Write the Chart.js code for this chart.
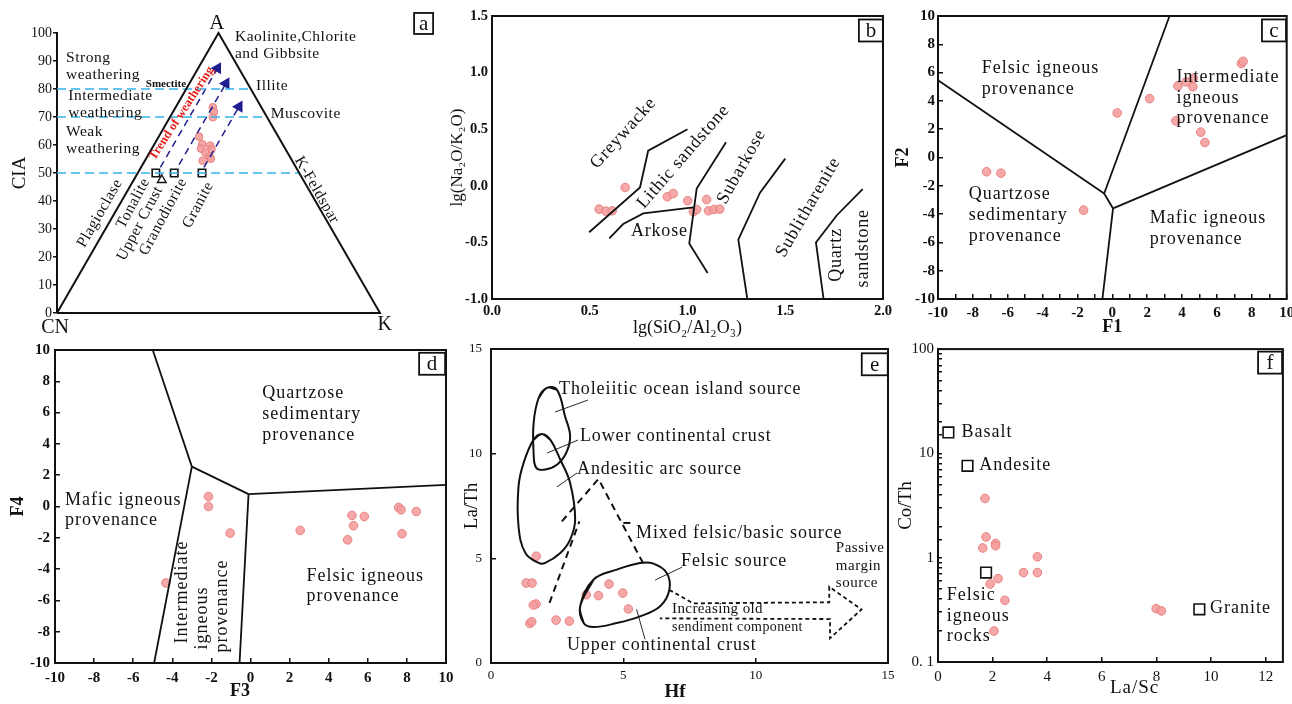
<!DOCTYPE html>
<html>
<head>
<meta charset="utf-8">
<script src="https://cdn.jsdelivr.net/npm/chart.js"></script>
<style>
body { margin: 0; background: #fff; }
#page { position: relative; width: 1292px; height: 704px; overflow: hidden; }
canvas { position: absolute; }
</style>
</head>
<body>
<div id="page">
  <canvas id="chartA"></canvas>
  <canvas id="chartB"></canvas>
  <canvas id="chartC"></canvas>
  <canvas id="chartD"></canvas>
  <canvas id="chartE"></canvas>
  <canvas id="chartF"></canvas>
</div>
<script>
// ---- a: A-CN-K ternary (A and K in %, CN = 100 - A - K)
const aSampleA = [73.5, 71.8, 69.9, 63.0, 60.3, 58.7, 59.8, 58.5, 57.3, 55.9, 54.4, 55.1];
const aSampleK = [11.5, 12.7, 13.3, 12.5, 14.8, 15.2, 17.5, 18.6, 17.3, 19.3, 17.9, 20.1];
const aRockA = [50, 50, 50];          // Tonalite, Granodiorite, Granite
const aRockK = [5.6, 11.3, 19.9];
const aCrustA = [47.5];               // Upper Crust
const aCrustK = [8.7];
const ciaLevels = [50, 70, 80];
const trendK = [6.0, 11.3, 19.5];
const trendStartA = [52, 53, 52];
const trendEndA = [87.4, 82.0, 73.7];
const ciaTicks = [0, 10, 20, 30, 40, 50, 60, 70, 80, 90, 100];

// ---- b: lg(SiO2/Al2O3) vs lg(Na2O/K2O)
const bSampleX = [0.548, 0.582, 0.615, 0.681, 0.897, 0.927, 1.001, 1.03, 1.047, 1.098, 1.107, 1.136, 1.165];
const bSampleY = [-0.206, -0.224, -0.221, -0.015, -0.097, -0.068, -0.132, -0.229, -0.209, -0.121, -0.221, -0.209, -0.206];
const bFieldX = [[0.497, 0.757, 0.799, 1.0], [0.6, 0.671, 0.774, 1.03], [1.197, 1.047, 1.009, 1.103], [1.5, 1.371, 1.26, 1.306], [1.896, 1.764, 1.657, 1.696]];
const bFieldY = [[-0.41, -0.015, 0.31, 0.5], [-0.465, -0.338, -0.244, -0.19], [0.385, -0.024, -0.51, -0.77], [0.24, -0.06, -0.475, -1.0], [-0.03, -0.26, -0.5, -1.0]];

// ---- c: F1 vs F2
const cSampleX = [-7.21, -6.39, -1.65, 0.28, 2.14, 3.76, 4.23, 4.62, 4.64, 3.64, 5.07, 5.31, 7.40, 7.50];
const cSampleY = [-1.01, -1.11, -3.72, 3.15, 4.16, 5.05, 5.34, 5.0, 5.6, 2.59, 1.79, 1.06, 6.64, 6.8];
const cFieldX = [[-10, -0.47], [-0.47, 3.28], [-0.47, 0.04], [0.04, 10], [0.04, -0.57]];
const cFieldY = [[5.46, -2.54], [-2.54, 10], [-2.54, -3.6], [-3.6, 1.58], [-3.6, -10]];

// ---- d: F3 vs F4
const dSampleX = [-2.15, -2.15, -1.04, -4.33, 2.54, 5.19, 5.82, 5.27, 4.97, 7.58, 7.70, 7.75, 8.48];
const dSampleY = [0.64, 0.0, -1.70, -4.89, -1.53, -0.57, -0.64, -1.23, -2.13, -0.06, -0.21, -1.74, -0.32];
const dFieldX = [[-5.0, -3.0], [-3.0, -4.93], [-3.0, -0.1], [-0.1, -0.56], [-0.1, 10]];
const dFieldY = [[10, 2.55], [2.55, -10], [2.55, 0.79], [0.79, -10], [0.79, 1.38]];

// ---- e: Hf vs La/Th
const eSampleX = [1.71, 1.33, 1.55, 1.70, 1.60, 1.47, 1.54, 2.46, 2.96, 3.60, 4.06, 4.46, 4.98, 5.19];
const eSampleY = [5.10, 3.82, 3.82, 2.82, 2.77, 1.89, 1.97, 2.05, 2.00, 3.26, 3.22, 3.77, 3.34, 2.58];
const eOceanX = [2.11, 2.49, 2.80, 2.99, 2.84, 2.49, 2.05, 1.71, 1.61, 1.61, 1.80];
const eOceanY = [13.14, 13.06, 11.78, 10.83, 10.03, 9.47, 9.24, 9.32, 10.03, 11.46, 12.66];
const eArcX = [1.92, 2.24, 2.62, 2.99, 3.18, 2.99, 2.62, 2.05, 1.80, 1.30, 1.04, 1.04, 1.23, 1.61];
const eArcY = [10.94, 10.67, 9.71, 8.60, 6.85, 5.89, 5.25, 4.78, 4.78, 5.25, 6.53, 8.44, 9.55, 10.67];
const eFelsicX = [3.37, 3.87, 4.75, 5.63, 6.14, 6.64, 6.74, 6.39, 5.63, 4.75, 3.87, 3.50];
const eFelsicY = [2.71, 3.98, 4.46, 4.78, 4.75, 4.30, 3.50, 2.71, 2.23, 1.91, 1.72, 1.91];
const eMixX = [[2.21, 3.34], [2.68, 4.06, 5.73], [5.0, 5.38]];
const eMixY = [[2.87, 6.77], [6.77, 8.79, 4.81], [6.69, 6.69]];
const eArrowX = [6.74, 7.64, 12.78, 12.78, 14.0, 12.81, 12.81, 6.38];
const eArrowY = [3.49, 2.85, 2.90, 3.64, 2.56, 1.18, 2.10, 2.13];
const eLeaderX = [[3.66, 2.42], [3.29, 2.12], [3.25, 2.49], [7.22, 6.20], [5.50, 5.82]];
const eLeaderY = [[12.56, 11.99], [10.65, 10.03], [9.08, 8.41], [4.58, 3.96], [2.56, 1.13]];

// ---- f: La/Sc vs Co/Th (log)
const fSampleX = [1.72, 1.76, 1.64, 2.11, 2.11, 3.64, 3.13, 3.64, 2.20, 1.91, 2.45, 2.05, 7.99, 8.18];
const fSampleY = [3.70, 1.58, 1.24, 1.37, 1.30, 1.02, 0.72, 0.72, 0.63, 0.56, 0.39, 0.198, 0.325, 0.309];
const fRockX = [0.38, 1.08, 1.76, 9.57];   // Basalt, Andesite, Felsic igneous rocks, Granite
const fRockY = [15.9, 7.6, 0.72, 0.32];

const SERIF = "'Liberation Serif', 'Times New Roman', serif";
Chart.defaults.font.family = SERIF;
Chart.defaults.color = '#111';
Chart.defaults.animation = false;

function pts(xs, ys) {
    return xs.map((v, i) => ({x: v, y: ys[i]}));
}

function lineDs(xs, ys, extra) {
    return Object.assign({
        data: pts(xs, ys), showLine: true, pointRadius: 0, borderColor: '#111',
        borderWidth: 1.8, fill: false, clip: false, tension: 0
    }, extra || {});
}

function sampleDs(xs, ys, r) {
    return {
        data: pts(xs, ys), showLine: false, pointRadius: r || 4.3,
        backgroundColor: 'rgba(244,158,158,0.9)', borderColor: '#e98080', borderWidth: 1
    };
}

function rockDs(xs, ys, r) {
    return {
        data: pts(xs, ys), showLine: false, pointStyle: 'rect', pointRadius: r,
        backgroundColor: '#fff', borderColor: '#111', borderWidth: 1.6, clip: false
    };
}

function loop(xs, ys) {
    // closed smooth outline: wrap points so the join is also smoothed
    const n = xs.length;
    return [[xs[n - 1], ...xs, xs[0], xs[1]], [ys[n - 1], ...ys, ys[0], ys[1]]];
}

// text labels, the corner letter box and the frame
const notesPlugin = {
    id: 'notes',
    afterDraw(chart, args, opts) {
        const {ctx, chartArea} = chart;
        const x = chart.scales.x, y = chart.scales.y;
        if (opts.frame) {
            ctx.save();
            ctx.strokeStyle = '#111';
            ctx.lineWidth = 2;
            ctx.strokeRect(chartArea.left, chartArea.top, chartArea.right - chartArea.left, chartArea.bottom - chartArea.top);
            ctx.restore();
        }
        (opts.items || []).forEach(n => {
            ctx.save();
            ctx.translate(x.getPixelForValue(n.x), y.getPixelForValue(n.y));
            if (n.rot) ctx.rotate(n.rot * Math.PI / 180);
            ctx.font = (n.bold ? 'bold ' : '') + (n.size || opts.size || 18) + 'px ' + SERIF;
            ctx.letterSpacing = (n.ls != null ? n.ls : (opts.ls != null ? opts.ls : 0.8)) + 'px';
            ctx.fillStyle = n.color || '#111';
            ctx.textAlign = n.align || 'left';
            ctx.textBaseline = 'middle';
            ctx.fillText(n.t, 0, 0);
            ctx.restore();
        });
        if (opts.tag) {
            const t = opts.tag;
            const cx = x.getPixelForValue(t.x), cy = y.getPixelForValue(t.y);
            ctx.save();
            ctx.fillStyle = '#fff';
            ctx.fillRect(cx - t.w / 2, cy - t.h / 2, t.w, t.h);
            ctx.strokeStyle = '#111';
            ctx.lineWidth = 1.8;
            ctx.strokeRect(cx - t.w / 2, cy - t.h / 2, t.w, t.h);
            ctx.fillStyle = '#111';
            ctx.font = '21px ' + SERIF;
            ctx.textAlign = 'center';
            ctx.textBaseline = 'middle';
            ctx.fillText(t.t, cx, cy + 1);
            ctx.restore();
        }
    }
};
Chart.register(notesPlugin);

// place a canvas so that the plot area lands on area {l,t,r,b}; pad = room around it
function makeChart(id, area, pad, datasets, scales, notes) {
    const cv = document.getElementById(id);
    cv.width = area.r - area.l + pad.l + pad.r;
    cv.height = area.b - area.t + pad.t + pad.b;
    cv.style.left = (area.l - pad.l) + 'px';
    cv.style.top = (area.t - pad.t) + 'px';
    scales.y.afterFit = s => { s.width = pad.l; s.paddingTop = 0; s.paddingBottom = 0; };
    if (scales.x.display !== false) {
        scales.x.afterFit = s => { s.height = pad.b; s.paddingLeft = 0; s.paddingRight = 0; };
    }
    return new Chart(cv, {
        type: 'scatter',
        data: {datasets: datasets},
        options: {
            responsive: false,
            layout: {padding: {left: 0, top: pad.t, right: pad.r, bottom: scales.x.display === false ? pad.b : 0}},
            plugins: {legend: {display: false}, tooltip: {enabled: false}, notes: notes},
            scales: scales
        }
    });
}

function axis(min, max, step, opts) {
    const o = opts || {};
    return {
        type: o.type || 'linear', min: min, max: max,
        border: {display: !!o.border, color: '#111', width: 2},
        grid: {drawOnChartArea: false, drawTicks: o.tick !== 0, tickLength: o.tick || -5, color: '#111', lineWidth: 1.5},
        ticks: {
            stepSize: step, autoSkip: false, includeBounds: false, padding: o.pad,
            maxRotation: 0, minRotation: 0,
            color: '#111', font: {size: o.size || 15, weight: o.bold ? 'bold' : 'normal'},
            callback: o.fmt || (v => v)
        },
        title: {display: !!o.title, text: o.title, color: '#111',
            font: {size: o.tsize || 18, weight: o.tbold ? 'bold' : 'normal'},
            padding: {top: o.tpad || 0, bottom: o.tpad || 0}}
    };
}

// ---------- a
const ternX = (A, K) => K.map((k, i) => k + A[i] / 2);
const aDatasets = [
    lineDs([0, 50, 100, 0], [0, 100, 0, 0], {borderWidth: 2})
];
ciaLevels.forEach(c => aDatasets.push(lineDs([0, 100 - c / 2], [c, c], {borderColor: '#34b3e8', borderWidth: 1.6, borderDash: [9, 5]})));
trendK.forEach((k, i) => aDatasets.push(lineDs(
    ternX([trendStartA[i], trendEndA[i]], [k, k]), [trendStartA[i], trendEndA[i]],
    {borderColor: '#1f1f8f', borderWidth: 1.5, borderDash: [7, 5],
     pointRadius: c => c.dataIndex === 1 ? 5.5 : 0, pointStyle: 'triangle', rotation: 30,
     pointBackgroundColor: '#1f1f8f', pointBorderColor: '#1f1f8f'})));
aDatasets.push(sampleDs(ternX(aSampleA, aSampleK), aSampleA, 3.8));
aDatasets.push(rockDs(ternX(aRockA, aRockK), aRockA, 5.2));
aDatasets.push({data: pts(ternX(aCrustA, aCrustK), aCrustA), showLine: false, pointStyle: 'triangle', pointRadius: 5,
    backgroundColor: '#fff', borderColor: '#111', borderWidth: 1.4});

const aY = axis(0, 100, 10, {border: true, tick: 4, pad: 1, size: 14, title: 'CIA', tsize: 19, tpad: 9});
aY.ticks.callback = v => ciaTicks.includes(v) ? v : '';
makeChart('chartA', {l: 57, t: 33, r: 380, b: 313}, {l: 57, t: 31, r: 60, b: 30}, aDatasets,
    {x: {type: 'linear', min: 0, max: 100, display: false}, y: aY},
    {size: 15.5, ls: 0.5, items: [
        {t: 'A', x: 49.5, y: 103.4, size: 21, align: 'center', ls: 0},
        {t: 'CN', x: -0.6, y: -5.4, size: 20, align: 'center', ls: 0},
        {t: 'K', x: 101.5, y: -4.3, size: 20, align: 'center', ls: 0},
        {t: 'Kaolinite,Chlorite', x: 55.1, y: 98.7},
        {t: 'and Gibbsite', x: 55.1, y: 92.7},
        {t: 'Illite', x: 61.6, y: 81.2},
        {t: 'Muscovite', x: 66.2, y: 71.0},
        {t: 'Strong', x: 2.8, y: 91.0},
        {t: 'weathering', x: 2.8, y: 85.0},
        {t: 'Smectite', x: 27.5, y: 81.9, size: 11, bold: true, ls: 0},
        {t: 'Intermediate', x: 3.5, y: 77.5},
        {t: 'weathering', x: 3.5, y: 71.5},
        {t: 'Weak', x: 2.8, y: 64.8},
        {t: 'weathering', x: 2.8, y: 58.6},
        {t: 'Trend of weathering', x: 38.6, y: 71.3, rot: -57, size: 12.5, bold: true, color: '#e3201b', align: 'center', ls: 0},
        {t: 'Plagioclase', x: 13.3, y: 35.6, rot: -60, align: 'center'},
        {t: 'Tonalite', x: 23.6, y: 39.2, rot: -62, align: 'center'},
        {t: 'Upper Crust', x: 25.7, y: 32.0, rot: -62, align: 'center'},
        {t: 'Granodiorite', x: 32.9, y: 34.4, rot: -62, align: 'center'},
        {t: 'Granite', x: 43.7, y: 38.6, rot: -62, align: 'center'},
        {t: 'K-Feldspar', x: 80.4, y: 43.9, rot: 60, align: 'center'}
    ], tag: {t: 'a', x: 113.5, y: 103.4, w: 19, h: 21}});

// ---------- b
const bDatasets = bFieldX.map((xs, i) => lineDs(xs, bFieldY[i]));
bDatasets.push(sampleDs(bSampleX, bSampleY));
makeChart('chartB', {l: 492, t: 16, r: 883, b: 299}, {l: 58, t: 12, r: 12, b: 45}, bDatasets, {
    x: axis(0, 2, 0.5, {tick: 0, pad: 4, size: 14.5, bold: true, fmt: v => v.toFixed(1), title: 'lg(SiO₂/Al₂O₃)', tsize: 18, tpad: 5}),
    y: axis(-1, 1.5, 0.5, {tick: 0, pad: 4, size: 14.5, bold: true, fmt: v => v.toFixed(1), title: 'lg(Na₂O/K₂O)', tsize: 17, tpad: 13})
}, {frame: true, size: 18, ls: 0.8, items: [
    {t: 'Greywacke', x: 0.672, y: 0.464, rot: -48, align: 'center'},
    {t: 'Lithic sandstone', x: 0.979, y: 0.257, rot: -49, align: 'center'},
    {t: 'Subarkose', x: 1.277, y: 0.169, rot: -61, align: 'center'},
    {t: 'Arkose', x: 0.856, y: -0.405, align: 'center'},
    {t: 'Sublitharenite', x: 1.618, y: -0.19, rot: -60, align: 'center'},
    {t: 'Quartz', x: 1.763, y: -0.611, rot: -90, align: 'center'},
    {t: 'sandstone', x: 1.899, y: -0.552, rot: -90, align: 'center'}
], tag: {t: 'b', x: 1.938, y: 1.372, w: 24, h: 22}});

// ---------- c
const cDatasets = cFieldX.map((xs, i) => lineDs(xs, cFieldY[i]));
cDatasets.push(sampleDs(cSampleX, cSampleY));
makeChart('chartC', {l: 938, t: 16, r: 1289, b: 299}, {l: 50, t: 12, r: 3, b: 45}, cDatasets, {
    x: axis(-10, 10, 1, {pad: 10, bold: true, fmt: v => v % 2 === 0 ? v : '', title: 'F1', tbold: true, tpad: 6}),
    y: axis(-10, 10, 2, {pad: 8, bold: true, title: 'F2', tbold: true, tpad: 5})
}, {frame: true, size: 18, ls: 1, items: [
    {t: 'Felsic igneous', x: -7.49, y: 6.33},
    {t: 'provenance', x: -7.49, y: 4.84},
    {t: 'Intermediate', x: 3.68, y: 5.69},
    {t: 'igneous', x: 3.68, y: 4.20},
    {t: 'provenance', x: 3.68, y: 2.79},
    {t: 'Quartzose', x: -8.23, y: -2.58},
    {t: 'sedimentary', x: -8.23, y: -4.06},
    {t: 'provenance', x: -8.23, y: -5.55},
    {t: 'Mafic igneous', x: 2.14, y: -4.28},
    {t: 'provenance', x: 2.14, y: -5.76}
], tag: {t: 'c', x: 9.27, y: 8.98, w: 24, h: 22}});

// ---------- d (x title sits left of centre, so it is drawn as a note)
const dDatasets = dFieldX.map((xs, i) => lineDs(xs, dFieldY[i]));
dDatasets.push(sampleDs(dSampleX, dSampleY));
makeChart('chartD', {l: 55, t: 350, r: 446, b: 663}, {l: 50, t: 10, r: 12, b: 41}, dDatasets, {
    x: axis(-10, 10, 2, {pad: 11, bold: true}),
    y: axis(-10, 10, 2, {pad: 10, bold: true, title: 'F4', tbold: true, tpad: 3})
}, {frame: true, size: 18, ls: 1, items: [
    {t: 'F3', x: -0.54, y: -11.8, bold: true, align: 'center', ls: 0},
    {t: 'Quartzose', x: 0.60, y: 7.23},
    {t: 'sedimentary', x: 0.60, y: 5.91},
    {t: 'provenance', x: 0.60, y: 4.57},
    {t: 'Mafic igneous', x: -9.49, y: 0.42},
    {t: 'provenance', x: -9.49, y: -0.91},
    {t: 'Felsic igneous', x: 2.87, y: -4.44},
    {t: 'provenance', x: 2.87, y: -5.76},
    {t: 'Intermediate', x: -3.50, y: -5.46, rot: -90, align: 'center'},
    {t: 'igneous', x: -2.48, y: -7.12, rot: -90, align: 'center'},
    {t: 'provenance', x: -1.46, y: -6.36, rot: -90, align: 'center'}
], tag: {t: 'd', x: 9.29, y: 9.12, w: 26, h: 22}});

// ---------- e
const eDatasets = [];
[[eOceanX, eOceanY], [eArcX, eArcY], [eFelsicX, eFelsicY]].forEach(([xs, ys]) => {
    const [lx, ly] = loop(xs, ys);
    eDatasets.push(lineDs(lx, ly, {tension: 0.4, borderWidth: 2}));
});
eMixX.forEach((xs, i) => eDatasets.push(lineDs(xs, eMixY[i], {borderWidth: 2, borderDash: [7, 5]})));
eDatasets.push(lineDs(eArrowX, eArrowY, {borderWidth: 1.8, borderDash: [4, 3]}));
eLeaderX.forEach((xs, i) => eDatasets.push(lineDs(xs, eLeaderY[i], {borderWidth: 0.9})));
eDatasets.push(sampleDs(eSampleX, eSampleY));
makeChart('chartE', {l: 491, t: 349, r: 888, b: 663}, {l: 45, t: 9, r: 12, b: 41}, eDatasets, {
    x: axis(0, 15, 5, {pad: 10, size: 13}),
    y: axis(0, 15, 5, {pad: 14, size: 13, title: 'La/Th', tsize: 19, tpad: 15})
}, {frame: true, size: 18, ls: 0.9, items: [
    {t: 'Hf', x: 6.95, y: -1.4, size: 19, bold: true, align: 'center', ls: 0},
    {t: 'Tholeiitic ocean island source', x: 2.57, y: 13.09},
    {t: 'Lower continental crust', x: 3.36, y: 10.84},
    {t: 'Andesitic arc source', x: 3.25, y: 9.27},
    {t: 'Mixed felsic/basic source', x: 5.48, y: 6.21},
    {t: 'Felsic source', x: 7.18, y: 4.87},
    {t: 'Upper continental crust', x: 2.87, y: 0.86},
    {t: 'Passive', x: 13.03, y: 5.49, size: 15, ls: 0.5},
    {t: 'margin', x: 13.03, y: 4.63, size: 15, ls: 0.5},
    {t: 'source', x: 13.03, y: 3.82, size: 15, ls: 0.5},
    {t: 'Increasing old', x: 6.84, y: 2.58, size: 15, ls: 0.4},
    {t: 'sendiment component', x: 6.84, y: 1.72, size: 14, ls: 0.4}
], tag: {t: 'e', x: 14.5, y: 14.27, w: 26, h: 22}});

// ---------- f
const decades = [0.1, 1, 10, 100];
const fY = axis(0.1, 100, null, {type: 'logarithmic', pad: 8, title: 'Co/Th', tsize: 19, tpad: 7,
    fmt: v => decades.includes(v) ? (v === 0.1 ? '0. 1' : String(v)) : ''});
fY.grid.tickLength = -4;
makeChart('chartF', {l: 938, t: 349, r: 1290, b: 662}, {l: 50, t: 9, r: 2, b: 42},
    [sampleDs(fSampleX, fSampleY), rockDs(fRockX, fRockY, 7.5)], {
    x: axis(0, 12.63, 2, {pad: 11}),
    y: fY
}, {frame: true, size: 18, ls: 1, items: [
    {t: 'La/Sc', x: 7.2, y: 0.0566, size: 19, align: 'center', ls: 1},
    {t: 'Basalt', x: 0.86, y: 15.96},
    {t: 'Andesite', x: 1.51, y: 7.69},
    {t: 'Felsic', x: 0.32, y: 0.434},
    {t: 'igneous', x: 0.32, y: 0.272},
    {t: 'rocks', x: 0.32, y: 0.175},
    {t: 'Granite', x: 9.96, y: 0.325}
], tag: {t: 'f', x: 12.16, y: 74.2, w: 24, h: 22}});
</script>
</body>
</html>
